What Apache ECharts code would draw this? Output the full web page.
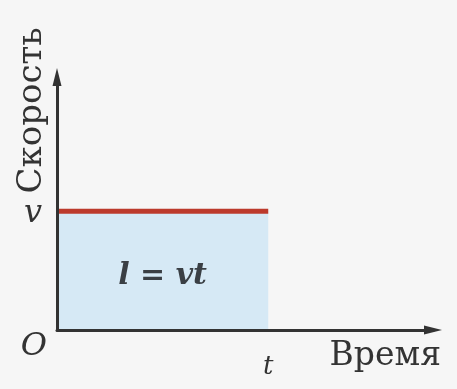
<!DOCTYPE html>
<html>
<head>
<meta charset="utf-8">
<script src="https://cdn.jsdelivr.net/npm/echarts@6/dist/echarts.min.js"></script>
<style>
  html, body { margin: 0; padding: 0; background: #f6f6f6; }
  #chart { width: 457px; height: 389px; }
</style>
</head>
<body>
<div id="chart"></div>
<script>
// Uniform motion: constant speed v over time t, distance is the shaded area
const times = [0, 1];
const speeds = [1, 1];
const xTickLabels = ['', 't'];
const yTickLabels = ['O', 'v'];
const xAxisTitle = 'Время';
const yAxisTitle = 'Скорость';
const areaFormula = 'l = vt';

const ink = '#333333';
const serif = 'DejaVu Serif';

const chart = echarts.init(document.getElementById('chart'));
chart.setOption({
  backgroundColor: '#f6f6f6',
  animation: false,
  grid: { left: 57, right: 24, top: 77, bottom: 59, containLabel: false, outerBoundsMode: 'none' },
  xAxis: {
    type: 'value',
    z: 10,
    min: 0,
    max: 1.78,
    interval: 1,
    name: xAxisTitle,
    nameLocation: 'end',
    nameGap: 8,
    nameMoveOverlap: false,
    nameTextStyle: {
      fontFamily: serif, fontSize: 33, color: ink,
      align: 'right', verticalAlign: 'top', padding: [10, 0, 0, 0]
    },
    axisLine: {
      lineStyle: { color: ink, width: 3 },
      symbol: ['none', 'triangle'],
      symbolSize: [9, 18]
    },
    axisTick: { show: false },
    splitLine: { show: false },
    axisLabel: {
      showMaxLabel: false,
      margin: 24,
      fontFamily: serif, fontStyle: 'italic', fontSize: 26, color: ink,
      formatter: v => xTickLabels[Math.round(v)] || ''
    }
  },
  yAxis: {
    type: 'value',
    z: 10,
    min: 0,
    max: 2.13,
    interval: 1,
    name: yAxisTitle,
    nameLocation: 'middle',
    nameRotate: 90,
    nameGap: 8,
    nameMoveOverlap: false,
    nameTextStyle: {
      fontFamily: serif, fontSize: 34, color: ink,
      align: 'left', verticalAlign: 'bottom', padding: [0, 0, 0, 10]
    },
    axisLine: {
      lineStyle: { color: ink, width: 3 },
      symbol: ['none', 'triangle'],
      symbolSize: [9, 18]
    },
    axisTick: { show: false },
    splitLine: { show: false },
    axisLabel: {
      showMaxLabel: false,
      margin: 10,
      formatter: v => {
        const i = Math.round(v);
        return i === 0 ? '{o|' + yTickLabels[0] + '}' : '{v|' + (yTickLabels[i] || '') + '}';
      },
      rich: {
        o: { fontFamily: serif, fontStyle: 'italic', fontSize: 32, color: ink, padding: [34, 0, 0, 0] },
        v: { fontFamily: serif, fontStyle: 'italic', fontSize: 32, color: ink, padding: [4, 5, 0, 0] }
      }
    }
  },
  series: [{
    type: 'line',
    data: times.map((t, i) => [t, speeds[i]]),
    showSymbol: false,
    z: 5,
    lineStyle: { color: '#bc3a2c', width: 5, cap: 'butt' },
    markArea: {
      silent: true,
      itemStyle: { color: '#d6e9f5' },
      label: {
        show: true,
        position: 'inside',
        offset: [0, 6],
        formatter: areaFormula,
        fontFamily: serif, fontStyle: 'italic', fontWeight: 'bold', fontSize: 30, color: '#3a3f44'
      },
      data: [[
        { coord: [times[0], 0] },
        { coord: [times[times.length - 1], speeds[speeds.length - 1]] }
      ]]
    }
  }]
});
</script>
</body>
</html>
